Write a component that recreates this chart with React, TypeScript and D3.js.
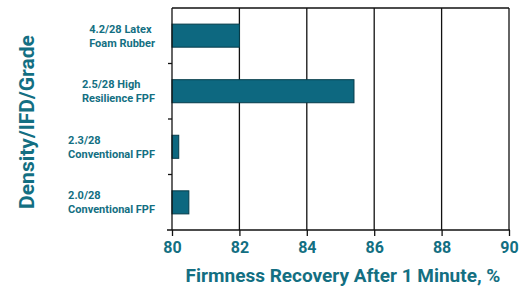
import { useRef, useEffect } from "react";
import * as d3 from "d3";

// categories, top to bottom, each as two lines
const categories = [
  ["4.2/28 Latex", "Foam Rubber"],
  ["2.5/28 High", "Resilience FPF"],
  ["2.3/28", "Conventional FPF"],
  ["2.0/28", "Conventional FPF"],
];
const values = [82.0, 85.4, 80.2, 80.5];
const xTicks = [80, 82, 84, 86, 88, 90];
const xTitle = "Firmness Recovery After 1 Minute, %";
const yTitle = "Density/IFD/Grade";

const W = 527;
const H = 287;
const teal = "#136f82";
const barFill = "#0d6880";

export default function App() {
  const svgRef = useRef<SVGSVGElement>(null);

  useEffect(() => {
    const svg = d3.select(svgRef.current);
    svg.selectAll("*").remove();

    const left = 172;
    const right = 509;
    const top = 8;
    const bottom = 230;

    const x = d3.scaleLinear().domain([80, 90]).range([left, right]);
    const y = d3
      .scaleBand<number>()
      .domain(d3.range(categories.length))
      .range([top, bottom])
      .paddingInner(0.585)
      .paddingOuter(0.29);
    const band = d3
      .scaleBand<number>()
      .domain(d3.range(categories.length))
      .range([top, bottom]);

    // grid lines
    svg
      .append("g")
      .selectAll("line")
      .data(xTicks.slice(1))
      .join("line")
      .attr("x1", (d) => x(d))
      .attr("x2", (d) => x(d))
      .attr("y1", top)
      .attr("y2", bottom)
      .attr("stroke", "#111")
      .attr("stroke-width", 1.3);

    svg
      .append("line")
      .attr("x1", left)
      .attr("x2", right)
      .attr("y1", top)
      .attr("y2", top)
      .attr("stroke", "#111")
      .attr("stroke-width", 1.3);

    // bars
    svg
      .append("g")
      .selectAll("rect")
      .data(values)
      .join("rect")
      .attr("x", x(80))
      .attr("y", (d, i) => y(i)!)
      .attr("width", (d) => x(d) - x(80))
      .attr("height", y.bandwidth())
      .attr("fill", barFill)
      .attr("stroke", "#063c4a")
      .attr("stroke-width", 1);

    // x axis
    const xAxis = d3
      .axisBottom(x)
      .tickValues(xTicks)
      .tickSize(6)
      .tickPadding(6)
      .tickSizeOuter(0)
      .tickFormat(d3.format("d"));
    const gx = svg
      .append("g")
      .attr("transform", `translate(0,${bottom})`)
      .call(xAxis);
    gx.select(".domain").attr("stroke", "#111").attr("stroke-width", 1.3).attr("d", `M${left - 5},0H${right + 1}`);
    gx.selectAll(".tick line").attr("stroke", "#111").attr("stroke-width", 1.3);
    gx.selectAll(".tick text")
      .attr("fill", teal)
      .attr("font-size", 16)
      .attr("font-weight", 700)
      .attr("font-family", "Roboto, sans-serif");

    // y axis with ticks at band boundaries
    svg
      .append("line")
      .attr("x1", left)
      .attr("x2", left)
      .attr("y1", top)
      .attr("y2", bottom)
      .attr("stroke", "#111")
      .attr("stroke-width", 1.3);
    svg
      .append("g")
      .selectAll("line")
      .data(d3.range(1, categories.length))
      .join("line")
      .attr("x1", left - 4)
      .attr("x2", left)
      .attr("y1", (i) => band(i)!)
      .attr("y2", (i) => band(i)!)
      .attr("stroke", "#111")
      .attr("stroke-width", 1.3);

    // category labels: left-aligned block, right edge at 155
    const labels = svg
      .append("g")
      .selectAll("g")
      .data(categories)
      .join("g");
    labels.each(function (lines, i) {
      const g = d3.select(this);
      const cy = band(i)! + band.bandwidth() / 2;
      const t = g
        .append("text")
        .attr("fill", teal)
        .attr("font-size", 11)
        .attr("font-weight", 700)
        .attr("font-family", "Roboto, sans-serif");
      lines.forEach((line, k) => {
        t.append("tspan")
          .attr("x", 0)
          .attr("y", cy + (k - 0.5) * 14)
          .attr("dy", "0.35em")
          .text(line);
      });
      const w = (t.node() as SVGTextElement).getBBox().width;
      g.attr("transform", `translate(${155 - w},0)`);
    });

    // titles
    svg
      .append("text")
      .attr("x", 343)
      .attr("y", 275)
      .attr("dy", "0.35em")
      .attr("text-anchor", "middle")
      .attr("fill", teal)
      .attr("font-size", 19)
      .attr("font-weight", 700)
      .attr("font-family", "Roboto, sans-serif")
      .text(xTitle);

    svg
      .append("text")
      .attr("transform", "translate(27,122) rotate(-90)")
      .attr("dy", "0.35em")
      .attr("text-anchor", "middle")
      .attr("fill", teal)
      .attr("font-size", 21)
      .attr("font-weight", 700)
      .attr("font-family", "Roboto, sans-serif")
      .text(yTitle);
  }, []);

  return (
    <svg
      ref={svgRef}
      width={W}
      height={H}
      style={{ position: "absolute", left: 0, top: 0, background: "#fff" }}
    />
  );
}
